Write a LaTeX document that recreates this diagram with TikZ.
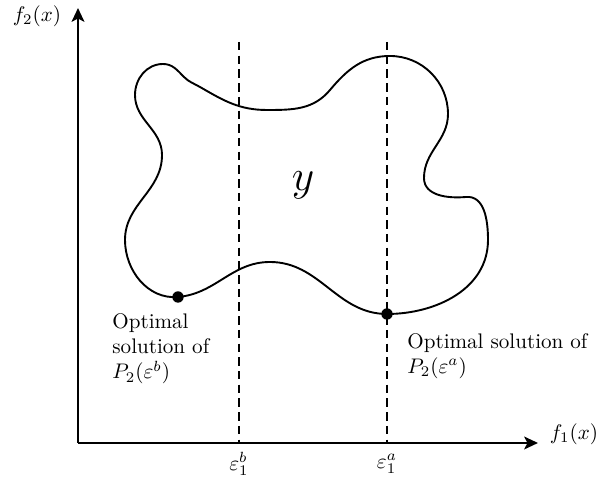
\documentclass[tikz,border=0pt]{standalone}
\usetikzlibrary{arrows.meta}
\tikzset{
  axis/.style={line width=1.3pt,-{Stealth[length=6.5pt,width=6pt,inset=1.5pt]}},
  cut/.style={line width=0.7pt,dash pattern=on 4pt off 2.5pt},
  optdot/.style={circle,fill,inner sep=0pt,minimum size=5.4pt},
  note/.style={align=left,inner sep=0pt,anchor=north west},
}
\begin{document}
\begin{tikzpicture}[x=0.01667cm,y=0.01667cm]
\useasboundingbox (0,0) rectangle (598,480);
% axes
\coordinate (O) at (78,37);
\coordinate (xend) at (538,37);
\coordinate (yend) at (78,472);
\draw[axis] (O) -- (xend);
\draw[axis] (O) -- (yend);
\node (f1) at (574,46) {$f_1(x)$};
\node (f2) at (37,464) {$f_2(x)$};
% epsilon cuts
\coordinate (topB) at (239,438);
\coordinate (topA) at (387,438);
\draw[cut] (topB) -- (topB |- O);
\draw[cut] (topA) -- (topA |- O);
\node (epsB) at (239,16) {$\varepsilon_1^b$};
\node (epsA) at (387,16) {$\varepsilon_1^a$};
% feasible set
\coordinate (solA) at (387,166);
\coordinate (solB) at (178,183);
\draw[line width=0.9pt,line join=round]
  (solB) to[out=5,in=180] (270,218)
  to[out=0,in=180] (solA)
  to[out=0,in=-90] (488,240)
  to[out=90,in=5] (466,283)
  to[out=185,in=-90] (424,302)
  to[out=90,in=-90] (448,366)
  to[out=90,in=0] (390,424)
  to[out=180,in=50] (330,390)
  to[out=230,in=0] (267,370)
  to[out=180,in=-30] (200,393)
  to[out=150,in=-45] (184,403)
  to[out=135,in=0] (163,416)
  to[out=180,in=90] (135,385)
  to[out=-90,in=90] (162,325)
  to[out=-90,in=90] (125,240)
  to[out=-90,in=185] (solB);
\node[font=\huge] (setY) at (303,295) {$y$};
\node[optdot] (dotA) at (solA) {};
\node[optdot] (dotB) at (solB) {};
\node[note] (labB) at (112,167) {Optimal\\solution of\\$P_2(\varepsilon^b)$};
\node[note] (labA) at (407,147) {Optimal solution of\\$P_2(\varepsilon^a)$};
\end{tikzpicture}
\end{document}
